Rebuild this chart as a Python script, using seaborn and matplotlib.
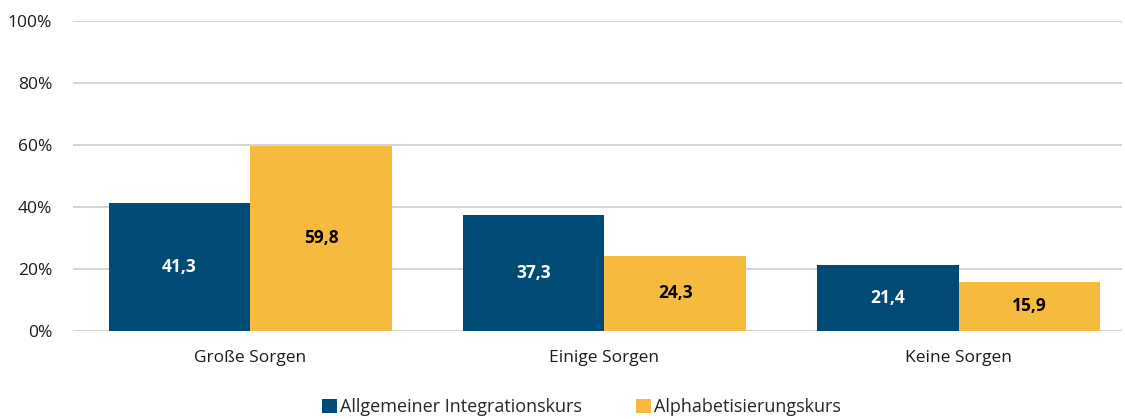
import pandas as pd
import matplotlib.pyplot as plt
import seaborn as sns
from matplotlib.ticker import PercentFormatter

# Data
categories = ["Große Sorgen", "Einige Sorgen", "Keine Sorgen"]
series = ["Allgemeiner Integrationskurs", "Alphabetisierungskurs"]
integration = [41.3, 37.3, 21.4]
alpha = [59.8, 24.3, 15.9]

df = pd.DataFrame({
    "Kategorie": categories * 2,
    "Kurs": [series[0]] * 3 + [series[1]] * 3,
    "Wert": integration + alpha,
})

colors = ["#004B76", "#F6BA3E"]

sns.set_style("white")
plt.rcParams["font.family"] = ["Open Sans", "DejaVu Sans"]

fig = plt.figure(figsize=(11.25, 4.19), dpi=100)
ax = fig.add_axes([0.065, 0.21, 0.932, 0.74])

sns.barplot(data=df, x="Kategorie", y="Wert", hue="Kurs", palette=colors,
            width=0.8, saturation=1, linewidth=0, ax=ax, zorder=3)

ax.set_ylim(0, 100)
ax.set_yticks(range(0, 101, 20))
ax.yaxis.set_major_formatter(PercentFormatter(decimals=0))
ax.grid(axis="y", color="#D0D0D0", linewidth=1.3, zorder=0)
ax.set_axisbelow(True)
sns.despine(ax=ax, left=True, bottom=True)
ax.tick_params(axis="both", length=0, labelsize=12.5, colors="#1a1a1a")
ax.tick_params(axis="y", pad=15)
ax.tick_params(axis="x", pad=14)
ax.set_xlabel("")
ax.set_ylabel("")
ax.set_xlim(-0.5, 2.46)

# value labels in the middle of each bar
for cont, txt_color in zip(ax.containers, ["white", "black"]):
    labels = [f"{v:.1f}".replace(".", ",") for v in cont.datavalues]
    ax.bar_label(cont, labels=labels, label_type="center", color=txt_color,
                 fontsize=12.5, fontweight="bold")

handles, labels = ax.get_legend_handles_labels()
ax.get_legend().remove()
fig.legend(handles, labels, loc="center", bbox_to_anchor=(0.517, 0.028), ncol=2,
           frameon=False, fontsize=13, handlelength=0.8, handleheight=0.8,
           handletextpad=0.2, columnspacing=3.0, borderpad=0)

fig.savefig("out.png", dpi=100)
